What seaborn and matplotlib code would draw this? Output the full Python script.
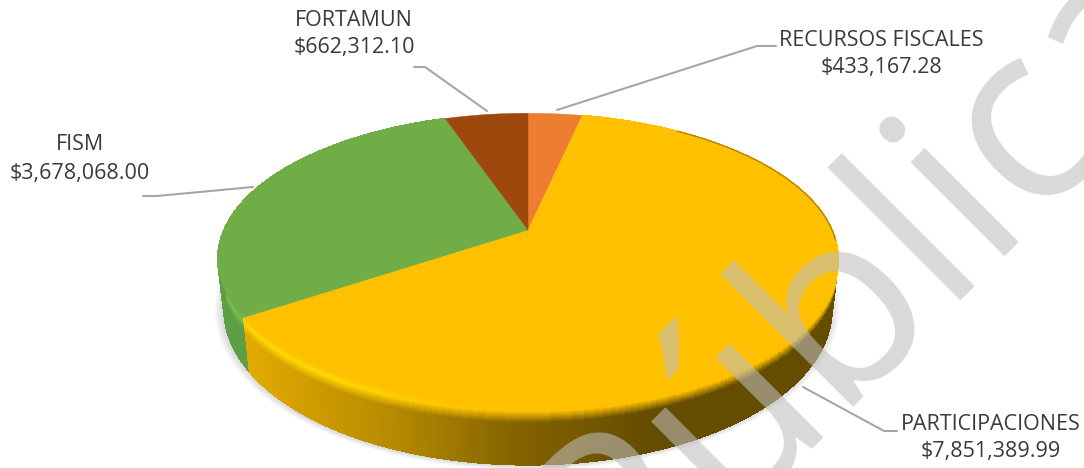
import numpy as np
import seaborn as sns
import matplotlib.pyplot as plt
from matplotlib.collections import PolyCollection
from matplotlib.colors import to_rgb

labels = ["RECURSOS FISCALES", "PARTICIPACIONES", "FISM", "FORTAMUN"]
values = [433167.28, 7851389.99, 3678068.00, 662312.10]
slice_colors = ["#ED7D31", "#FFC000", "#70AD47", "#9E480E"]
label_pos = [(881, 40), (991, 424), (80, 145), (354, 20)]
leaders = [
    [(557, 110), (757, 46), (776, 46)],
    [(803, 387), (884, 431), (897, 431)],
    [(143, 196), (157, 196), (253, 187)],
    [(414, 67), (425, 67), (487, 111)],
]

# pie geometry, in pixels of the output image
cx, cy = 528, 230
rx, ry = 304, 140
persp = 0.199
depth = 60

sns.set_theme(style="white")
plt.rcParams["font.family"] = ["Open Sans", "DejaVu Sans"]


def project(theta):
    # disc seen in perspective, so the apex sits above the ellipse centre
    w = 1 + persp * np.sin(theta)
    return cx + rx * np.cos(theta) / w, cy - ry * np.sin(theta) / w


def drop(theta, z):
    # point on the wall z pixels down; the lower disc is a bit smaller at the sides
    x, y = project(theta)
    t = z / depth
    d = np.clip(47 - 13 * np.sin(theta), 40, depth)
    return cx + (x - cx) * (1 - 0.02 * t), y + t * d


def blend(a, b, t):
    return tuple((1 - t) * np.array(a) + t * np.array(b))


fig = plt.figure(figsize=(10.84, 4.68), dpi=100)
ax = fig.add_axes([0, 0, 1, 1])
ax.set_xlim(0, 1084)
ax.set_ylim(468, 0)
ax.axis("off")

fracs = np.array(values) / np.sum(values)
edges = np.pi / 2 - 2 * np.pi * np.concatenate([[0], np.cumsum(fracs)])

# --- soft shadow below the pie ---
th = np.linspace(0, 2 * np.pi, 300)
sx, sy = drop(th, depth)
for i in range(9):
    grow = 1 + 0.0035 * i
    ax.fill(cx + (sx - cx) * grow - 1, 320 + (sy - 320) * grow + 1,
            color="#808080", alpha=0.035, lw=0, zorder=1)

# --- side wall, one thin quad per step, shaded from left to right ---
side_gold = sns.blend_palette(["#E1AA00", "#B98C00", "#846300", "#644C00"], 256)
z_steps = np.arange(0, 19, 1).tolist() + [depth]

polys, cols = [], []
for k in [2, 1]:
    arc = np.linspace(edges[k], edges[k + 1], 700)
    for a, b in zip(arc[:-1], arc[1:]):
        xa = project(a)[0]
        xb = project(b)[0]
        pos = np.clip(((xa + xb) / 2 - 247) / (650 - 247), 0, 1)
        side = to_rgb(side_gold[int(pos * 255)]) if k == 1 else to_rgb("#5E9E45")
        top = to_rgb(slice_colors[k])
        # highlight along the bevel fades out towards the right
        bright = (1.0, 0.85, 0.0) if k == 1 else (0.46, 0.74, 0.33)
        hi = blend(bright, top, np.clip((pos - 0.2) / 0.4, 0, 1))
        for z0, z1 in zip(z_steps[:-1], z_steps[1:]):
            if z0 < 7:
                c = blend(top, hi, z0 / 7)
            else:
                c = blend(hi, side, min((z0 - 7) / 11, 1))
            polys.append([drop(a, z0), drop(b, z0), drop(b, z1), drop(a, z1)])
            cols.append(c)
ax.add_collection(PolyCollection(polys, facecolors=cols, edgecolors=cols, linewidths=0.5,
                                 antialiaseds=False, zorder=2))

# --- top of the pie ---
for k, color in enumerate(slice_colors):
    arc = np.linspace(edges[k], edges[k + 1], 300)
    px, py = project(arc)
    ax.fill(np.r_[cx, px], np.r_[cy, py], color=color, lw=0.3, zorder=3)

# dark edge on the back right of the rim
px, py = project(np.linspace(np.radians(55), np.radians(-4), 80))
ax.plot(px, py, color="#5A4400", lw=1.0, alpha=0.45, zorder=4)

# --- leader lines and labels ---
for line in leaders:
    ax.plot(*zip(*line), color="#A6A6A6", lw=1.5, zorder=5, solid_capstyle="round")

for name, val, (lx, ly) in zip(labels, values, label_pos):
    ax.text(lx, ly, name, ha="center", va="center", fontsize=15.5, color="#3A3A3A", zorder=6)
    ax.text(lx, ly + 28, f"${val:,.2f}", ha="center", va="center", fontsize=15.5,
            color="#3A3A3A", zorder=6)

# --- watermark ---
ax.text(915, 322, "Pública", rotation=45, rotation_mode="anchor", ha="center", va="baseline",
        fontsize=178, color=(190 / 255,) * 3, alpha=0.58, zorder=7, clip_on=True)

fig.savefig("out.png", dpi=100)
